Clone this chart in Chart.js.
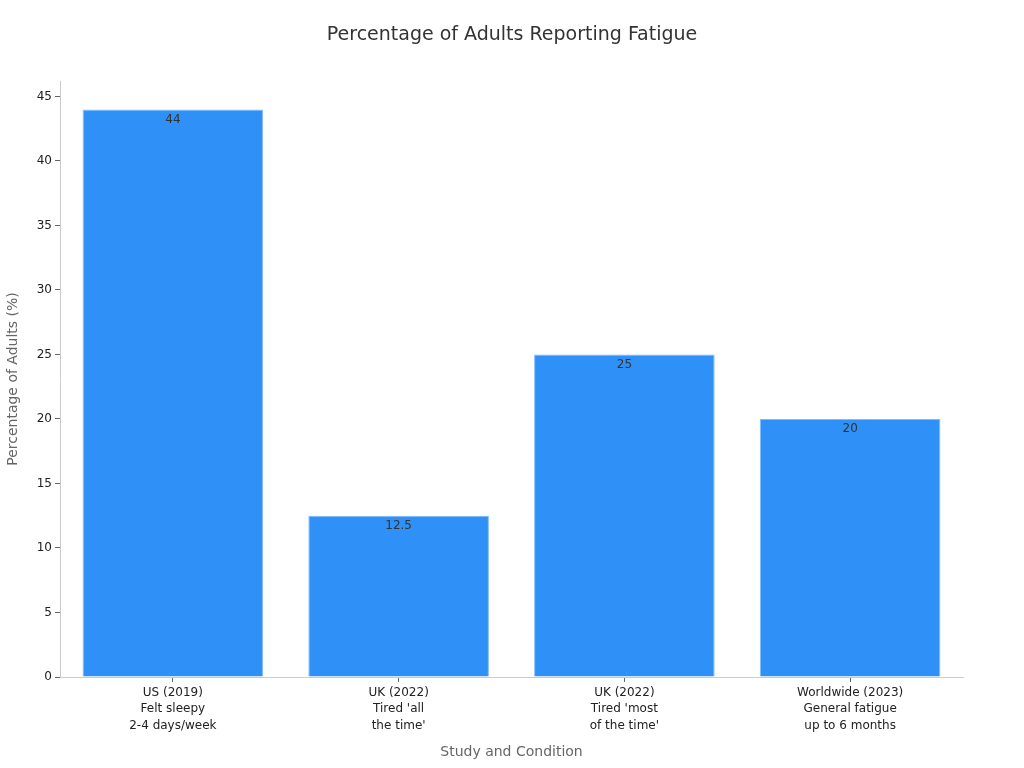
<!DOCTYPE html>
<html lang="en">
  <head>
    <meta charset="UTF-8" />
    <title>Percentage of Adults Reporting Fatigue</title>
    <script src="https://cdn.jsdelivr.net/npm/chart.js"></script>
    <style>
      html, body { margin: 0; padding: 0; background: #fff; }
      #wrap { width: 1024px; height: 768px; }
    </style>
  </head>
  <body>
    <div id="wrap"><canvas id="myChart" width="1024" height="768"></canvas></div>

    <script>
      // chart data
      const categories = [
        ['US (2019)', 'Felt sleepy', '2-4 days/week'],
        ['UK (2022)', "Tired 'all", "the time'"],
        ['UK (2022)', "Tired 'most", "of the time'"],
        ['Worldwide (2023)', 'General fatigue', 'up to 6 months']
      ];
      const percentages = [44, 12.5, 25, 20];

      const chartTitle = 'Percentage of Adults Reporting Fatigue';
      const xTitle = 'Study and Condition';
      const yTitle = 'Percentage of Adults (%)';

      Chart.defaults.font.family = '"DejaVu Sans", sans-serif';

      // title centred on the whole canvas, not just the plot
      const pageTitle = {
        id: 'pageTitle',
        afterDraw(chart) {
          const ctx = chart.ctx;
          ctx.save();
          ctx.font = '19px "DejaVu Sans", sans-serif';
          ctx.fillStyle = '#333333';
          ctx.textAlign = 'center';
          ctx.textBaseline = 'middle';
          ctx.fillText(chartTitle, chart.width / 2, 35);
          ctx.restore();
        }
      };

      // write each value just inside the top of its bar
      const barLabels = {
        id: 'barLabels',
        afterDatasetsDraw(chart) {
          const ctx = chart.ctx;
          const meta = chart.getDatasetMeta(0);
          ctx.save();
          ctx.font = '12px "DejaVu Sans", sans-serif';
          ctx.fillStyle = '#333333';
          ctx.textAlign = 'center';
          ctx.textBaseline = 'middle';
          meta.data.forEach((bar, i) => {
            ctx.fillText(String(percentages[i]), bar.x, bar.y + 10);
          });
          ctx.restore();
        }
      };

      const ctx = document.getElementById('myChart').getContext('2d');
      const myChart = new Chart(ctx, {
        type: 'bar',
        data: {
          labels: categories,
          datasets: [{
            data: percentages,
            backgroundColor: '#2f91f8',
            borderColor: '#7dbcfb',
            borderWidth: 1,
            barPercentage: 0.8,
            categoryPercentage: 1.0
          }]
        },
        options: {
          responsive: false,
          animation: false,
          layout: { padding: { left: 0, right: 61, top: 81, bottom: 4 } },
          plugins: {
            legend: { display: false },
            tooltip: { enabled: false },
            title: { display: false }
          },
          scales: {
            x: {
              border: { color: '#cccccc', width: 1 },
              grid: { drawOnChartArea: false, offset: false, color: '#666666', tickLength: 5 },
              ticks: {
                color: '#222222',
                font: { size: 12, lineHeight: 1.35 },
                padding: 3,
                maxRotation: 0
              },
              title: {
                display: true,
                text: xTitle,
                color: '#666666',
                font: { size: 14 },
                padding: { top: 3, bottom: 3 }
              },
              afterFit(scale) { scale.height = 87; }
            },
            y: {
              min: 0,
              max: 46.2,
              border: { color: '#cccccc', width: 1 },
              grid: { drawOnChartArea: false, color: '#666666', tickLength: 5 },
              ticks: { stepSize: 5, color: '#222222', font: { size: 12 }, padding: 3 },
              afterBuildTicks(scale) {
                scale.ticks = scale.ticks.filter(t => t.value % 5 === 0);
              },
              title: {
                display: true,
                text: yTitle,
                color: '#666666',
                font: { size: 14 },
                padding: { top: 5, bottom: 6 }
              },
              afterFit(scale) { scale.width = 60; }
            }
          }
        },
        plugins: [pageTitle, barLabels]
      });
    </script>
  </body>
</html>
